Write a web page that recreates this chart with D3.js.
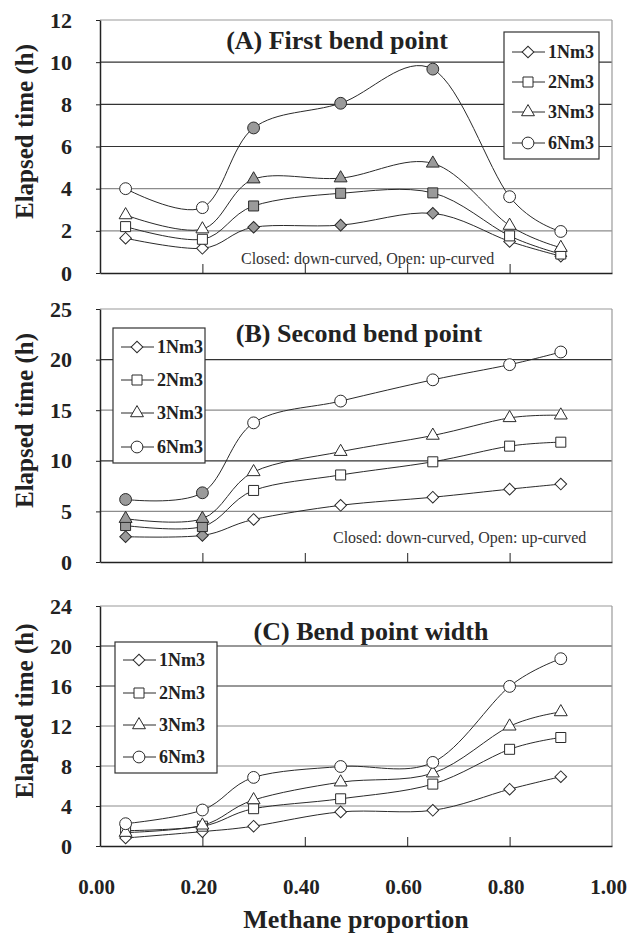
<!DOCTYPE html>
<html>
<head>
<meta charset="utf-8">
<script src="https://cdn.jsdelivr.net/npm/d3@7"></script>
<style>
  body { margin: 0; background: #fff; }
  svg { display: block; font-family: 'Liberation Serif', 'Times New Roman', serif; }
</style>
</head>
<body>
<div id="chart"></div>
<script>
// x values (methane proportion)
var methane = [0.05, 0.20, 0.30, 0.47, 0.65, 0.80, 0.90]
var seriesNames = ['1Nm3', '2Nm3', '3Nm3', '6Nm3']
var xTicks = [0, 0.2, 0.4, 0.6, 0.8, 1.0]

// (A) first bend point
var firstBend1 = [1.65, 1.17, 2.17, 2.27, 2.83, 1.50, 0.80]
var firstBend2 = [2.20, 1.60, 3.18, 3.78, 3.80, 1.76, 0.90]
var firstBend3 = [2.75, 2.08, 4.45, 4.50, 5.20, 2.25, 1.20]
var firstBend6 = [4.00, 3.10, 6.88, 8.05, 9.67, 3.62, 1.97]
var firstBendClosed = [2, 3, 4]
var firstBendTicks = [0, 2, 4, 6, 8, 10, 12]

// (B) second bend point
var secondBend1 = [2.50, 2.63, 4.20, 5.60, 6.40, 7.20, 7.70]
var secondBend2 = [3.60, 3.50, 7.07, 8.60, 9.90, 11.45, 11.84]
var secondBend3 = [4.28, 4.28, 8.90, 10.90, 12.50, 14.24, 14.50]
var secondBend6 = [6.18, 6.84, 13.75, 15.90, 18.00, 19.50, 20.75]
var secondBendClosed = [0, 1]
var secondBendTicks = [0, 5, 10, 15, 20, 25]

// (C) bend point width
var bendWidth1 = [0.80, 1.44, 1.98, 3.41, 3.57, 5.68, 6.93]
var bendWidth2 = [1.53, 1.98, 3.73, 4.72, 6.19, 9.67, 10.85]
var bendWidth3 = [1.34, 2.07, 4.60, 6.38, 7.28, 11.97, 13.40]
var bendWidth6 = [2.23, 3.60, 6.86, 7.95, 8.36, 15.96, 18.73]
var bendWidthClosed = []
var bendWidthTicks = [0, 4, 8, 12, 16, 20, 24]

var width = 630
var height = 942
var plotLeft = 100
var plotRight = 612
var serif = "'Liberation Serif', 'Times New Roman', serif"

var svg = d3.select('#chart')
  .append('svg')
  .attr('width', width)
  .attr('height', height)

var x = d3.scaleLinear().domain([0, 1]).range([plotLeft, plotRight])

// diamond = square turned 45 degrees
var symbols = [d3.symbolSquare, d3.symbolSquare, d3.symbolTriangle, d3.symbolCircle]
var symbolSizes = [68, 100, 72, 110]
var symbolRotate = [45, 0, 0, 0]
var closedFill = '#9a9a9a'
var lineColor = '#2a2a2a'

// panel settings (layout only)
var panels = [
  {
    title: '(A) First bend point', top: 20, bottom: 273,
    series: [firstBend1, firstBend2, firstBend3, firstBend6],
    closed: firstBendClosed, ticks: firstBendTicks,
    titleX: 337, titleY: 49,
    legend: { x: 504, y: 32, w: 95, h: 127, rowY: [52, 82, 112, 143] },
    note: { x: 241, y: 264 },
    gridDark: [6, 8, 10]
  },
  {
    title: '(B) Second bend point', top: 309, bottom: 562,
    series: [secondBend1, secondBend2, secondBend3, secondBend6],
    closed: secondBendClosed, ticks: secondBendTicks,
    titleX: 359, titleY: 342,
    legend: { x: 113, y: 328, w: 92, h: 135, rowY: [347, 380, 413, 447] },
    note: { x: 333, y: 543 },
    gridDark: [10, 20]
  },
  {
    title: '(C) Bend point width', top: 606, bottom: 846,
    series: [bendWidth1, bendWidth2, bendWidth3, bendWidth6],
    closed: bendWidthClosed, ticks: bendWidthTicks,
    titleX: 371, titleY: 640,
    legend: { x: 115, y: 642, w: 102, h: 131, rowY: [660, 693, 725, 757] },
    note: null,
    gridDark: [16, 20]
  }
]

function marker(s) {
  return d3.symbol().type(symbols[s]).size(symbolSizes[s])()
}

panels.forEach(function (p) {
  var y = d3.scaleLinear()
    .domain([p.ticks[0], p.ticks[p.ticks.length - 1]])
    .range([p.bottom, p.top])
  var g = svg.append('g')

  // gridlines
  g.selectAll('.grid')
    .data(p.ticks.slice(1, -1))
    .enter()
    .append('line')
    .attr('x1', plotLeft)
    .attr('x2', plotRight)
    .attr('y1', d => y(d))
    .attr('y2', d => y(d))
    .attr('stroke', d => p.gridDark.indexOf(d) >= 0 ? '#333' : '#8c8c8c')
    .attr('stroke-width', 1.2)

  // frame: top and right lighter, left and bottom dark
  g.append('line').attr('x1', plotLeft).attr('x2', plotRight)
    .attr('y1', p.top).attr('y2', p.top).attr('stroke', '#9a9a9a').attr('stroke-width', 1.2)
  g.append('line').attr('x1', plotRight).attr('x2', plotRight)
    .attr('y1', p.top).attr('y2', p.bottom).attr('stroke', '#9a9a9a').attr('stroke-width', 1.2)

  // y axis
  var yAxis = g.append('g')
    .attr('transform', 'translate(' + plotLeft + ',0)')
    .call(d3.axisLeft(y).tickValues(p.ticks).tickSize(4).tickPadding(24).tickSizeOuter(0))
  yAxis.select('.domain').attr('stroke', '#222').attr('stroke-width', 1.5)
  yAxis.selectAll('line').attr('stroke', '#222')
  yAxis.selectAll('text')
    .attr('font-family', serif)
    .attr('font-weight', 'bold')
    .attr('font-size', '22px')
    .attr('fill', '#222')

  // x axis (inner ticks)
  var xAxis = g.append('g')
    .attr('transform', 'translate(0,' + p.bottom + ')')
    .call(d3.axisBottom(x).tickValues(xTicks.slice(1, -1)).tickSize(-9).tickSizeOuter(0).tickFormat(''))
  xAxis.select('.domain').attr('stroke', '#222').attr('stroke-width', 1.5)
  xAxis.selectAll('line').attr('stroke', '#222')

  // y axis title
  svg.append('text')
    .attr('transform', 'translate(33,' + ((p.top + p.bottom) / 2 - 15) + ') rotate(-90)')
    .attr('text-anchor', 'middle')
    .attr('font-weight', 'bold')
    .attr('font-size', '25px')
    .attr('fill', '#222')
    .text('Elapsed time (h)')

  // panel title
  g.append('text')
    .attr('x', p.titleX)
    .attr('y', p.titleY)
    .attr('text-anchor', 'middle')
    .attr('font-weight', 'bold')
    .attr('font-size', '26px')
    .attr('fill', '#222')
    .text(p.title)

  // note
  if (p.note) {
    g.append('text')
      .attr('x', p.note.x)
      .attr('y', p.note.y)
      .attr('font-size', '16px')
      .attr('fill', '#333')
      .text('Closed: down-curved, Open: up-curved')
  }

  // smoothed lines
  var line = d3.line()
    .x((d, i) => x(methane[i]))
    .y(d => y(d))
    .curve(d3.curveCatmullRom.alpha(0))

  p.series.forEach(function (values, s) {
    g.append('path')
      .datum(values)
      .attr('d', line)
      .attr('fill', 'none')
      .attr('stroke', lineColor)
      .attr('stroke-width', 1)

    g.selectAll('.marker' + s)
      .data(values)
      .enter()
      .append('path')
      .attr('transform', (d, i) => 'translate(' + x(methane[i]) + ',' + y(d) + ') rotate(' + symbolRotate[s] + ')')
      .attr('d', marker(s))
      .attr('fill', (d, i) => p.closed.indexOf(i) >= 0 ? closedFill : '#fff')
      .attr('stroke', lineColor)
      .attr('stroke-width', 1)
  })

  // legend
  var lg = g.append('g')
  lg.append('rect')
    .attr('x', p.legend.x)
    .attr('y', p.legend.y)
    .attr('width', p.legend.w)
    .attr('height', p.legend.h)
    .attr('fill', '#fff')
    .attr('stroke', '#333')
    .attr('stroke-width', 1.2)
  seriesNames.forEach(function (name, s) {
    var ry = p.legend.rowY[s]
    var lx = p.legend.x + 8
    lg.append('line')
      .attr('x1', lx).attr('x2', lx + 33)
      .attr('y1', ry).attr('y2', ry)
      .attr('stroke', lineColor)
    lg.append('path')
      .attr('transform', 'translate(' + (lx + 16) + ',' + ry + ') rotate(' + symbolRotate[s] + ')')
      .attr('d', marker(s))
      .attr('fill', '#fff')
      .attr('stroke', lineColor)
    lg.append('text')
      .attr('x', lx + 36)
      .attr('y', ry + 6)
      .attr('font-weight', 'bold')
      .attr('font-size', '18px')
      .attr('fill', '#222')
      .text(name)
  })
})

// bottom x tick labels
var xLabels = svg.append('g')
  .attr('transform', 'translate(-4,846)')
  .call(d3.axisBottom(x).tickValues(xTicks).tickSize(0).tickPadding(33).tickFormat(d3.format('.2f')))
xLabels.select('.domain').remove()
xLabels.selectAll('text')
  .attr('font-family', serif)
  .attr('font-weight', 'bold')
  .attr('font-size', '21px')
  .attr('fill', '#222')

svg.append('text')
  .attr('x', (plotLeft + plotRight) / 2)
  .attr('y', 928)
  .attr('text-anchor', 'middle')
  .attr('font-weight', 'bold')
  .attr('font-size', '26px')
  .attr('fill', '#222')
  .text('Methane proportion')
</script>
</body>
</html>
